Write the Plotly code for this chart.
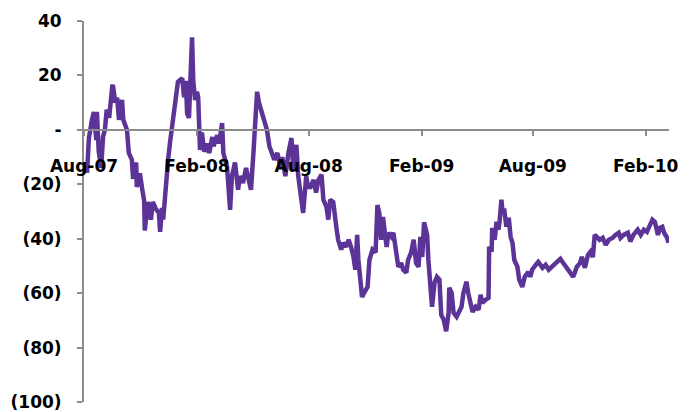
import plotly.graph_objects as go

dates = [
"2007-08-06","2007-08-09","2007-08-14","2007-08-17","2007-08-21","2007-08-22","2007-08-25","2007-08-29",
"2007-09-01","2007-09-04","2007-09-07","2007-09-11","2007-09-16","2007-09-17","2007-09-21","2007-09-24","2007-09-27",
"2007-10-02","2007-10-04","2007-10-10","2007-10-13","2007-10-18","2007-10-20","2007-10-25","2007-10-26","2007-10-31",
"2007-11-04","2007-11-07","2007-11-08","2007-11-13","2007-11-18","2007-11-21","2007-11-26",
"2007-12-01","2007-12-03","2007-12-06","2007-12-08","2007-12-13","2007-12-16","2007-12-19","2007-12-24","2007-12-27",
"2008-01-01","2008-01-08","2008-01-11","2008-01-14","2008-01-16","2008-01-19","2008-01-24","2008-01-26","2008-01-29",
"2008-02-01","2008-02-03","2008-02-06","2008-02-09","2008-02-13","2008-02-18","2008-02-21","2008-02-26","2008-02-28",
"2008-03-05","2008-03-08","2008-03-13","2008-03-15","2008-03-21","2008-03-26","2008-03-29",
"2008-04-03","2008-04-08","2008-04-11","2008-04-16","2008-04-21","2008-04-24","2008-04-29",
"2008-05-03","2008-05-09","2008-05-12","2008-05-17","2008-05-21","2008-05-25","2008-05-29",
"2008-06-03","2008-06-06","2008-06-11","2008-06-16","2008-06-19","2008-06-24","2008-06-29",
"2008-07-04","2008-07-07","2008-07-12","2008-07-15","2008-07-20","2008-07-23","2008-07-28","2008-07-31",
"2008-08-04","2008-08-09","2008-08-13","2008-08-17","2008-08-22","2008-08-25","2008-08-30",
"2008-09-02","2008-09-05","2008-09-10","2008-09-15","2008-09-18","2008-09-23","2008-09-26",
"2008-10-01","2008-10-05","2008-10-09","2008-10-13","2008-10-16","2008-10-19","2008-10-21","2008-10-24","2008-10-27","2008-10-30",
"2008-11-05","2008-11-08","2008-11-13","2008-11-18","2008-11-21","2008-11-24","2008-11-27","2008-11-30",
"2008-12-06","2008-12-09","2008-12-14","2008-12-17","2008-12-22","2008-12-25","2008-12-30",
"2009-01-02","2009-01-07","2009-01-10","2009-01-15","2009-01-19","2009-01-23","2009-01-27","2009-01-30",
"2009-02-02","2009-02-05","2009-02-10","2009-02-12","2009-02-15","2009-02-18","2009-02-22","2009-02-26",
"2009-03-02","2009-03-05","2009-03-09","2009-03-13","2009-03-17","2009-03-18","2009-03-22","2009-03-25","2009-03-30",
"2009-04-02","2009-04-07","2009-04-10","2009-04-15","2009-04-18","2009-04-22","2009-04-25","2009-04-30",
"2009-05-05","2009-05-08","2009-05-11","2009-05-16","2009-05-21","2009-05-22","2009-05-26","2009-05-27","2009-05-31",
"2009-06-03","2009-06-06","2009-06-08","2009-06-11","2009-06-13","2009-06-16","2009-06-19","2009-06-23","2009-06-26","2009-06-29",
"2009-07-02","2009-07-07","2009-07-10","2009-07-15","2009-07-19","2009-07-25","2009-07-28","2009-07-31",
"2009-08-06","2009-08-10","2009-08-17","2009-08-22","2009-08-27",
"2009-09-02","2009-09-09","2009-09-15","2009-09-20","2009-09-27",
"2009-10-01","2009-10-06","2009-10-12","2009-10-17","2009-10-20","2009-10-25","2009-10-30",
"2009-11-03","2009-11-07","2009-11-10","2009-11-15","2009-11-18","2009-11-23","2009-11-28",
"2009-12-03","2009-12-09","2009-12-14","2009-12-19","2009-12-22","2009-12-27",
"2010-01-03","2010-01-07","2010-01-12","2010-01-19","2010-01-24","2010-01-29",
"2010-02-03","2010-02-07","2010-02-12","2010-02-16","2010-02-21","2010-02-24","2010-02-28",
"2010-03-03","2010-03-08","2010-03-10",
]

values = [
-15.8,-3,3.7,6.6,-3.7,6.6,-8,-14,
-2.6,0,7.4,4.4,16,16.5,10,11.8,3.7,
11,3.7,0,-8.5,-11,-18,-12,-21,-16,
-22,-26,-37,-26.5,-33,-26.5,-29,
-30.5,-37.5,-28.7,-33,-17,-11,-4.8,3.7,8.5,
17.6,19,12,18,6,4.4,34,18,11,
14,12,-7.4,-1,-8,-5,-8.5,-2.6,-6,
-2,-5,2.5,-8.5,-13.5,-29.4,-17,
-12,-22,-17,-19.5,-14,-17,-22,
-8.5,14,10,6,3.7,0,-6,
-8.5,-11,-8.5,-13.5,-10,-17,-8.5,
-3,-14.7,-5.5,-17,-24.6,-30.5,-17,-21,
-21,-18.4,-23,-18.4,-16.5,-25.7,-28.3,
-33,-25.7,-26.5,-35.6,-40.4,-44,-41.5,
-43,-40.4,-43,-46.7,-51.4,-38.6,-47.8,-55.8,-61.4,-60,
-57.7,-47.8,-44,-45,-27.6,-30.5,-40.4,-32,
-43,-37.8,-39.3,-37.8,-45,-50.3,-49,
-51.4,-52.5,-47.8,-45,-40.4,-49,-50.3,-39.3,
-46.7,-34,-38.6,-47.8,-56.2,-65,-56.2,-54,
-55,-68,-69.8,-74,-67.2,-58,-60,-67.2,-68.7,
-66.9,-65,-60,-55.8,-60,-63.6,-66.9,-65,
-66,-60.6,-63.6,-62.5,-61.7,-43,-44.8,-36,-40.4,
-33.8,-36.7,-33.8,-25.7,-30.5,-30,-35.6,-32.3,-39.3,-41.5,
-47.8,-50.3,-55,-57.7,-54,-52.2,-54,-51.4,
-49.6,-48.5,-50.7,-49.6,-51.4,
-50.3,-49,-47.4,-49,-51.4,
-52.5,-54,-50.3,-49,-46.7,-50.7,-46,
-44.8,-46.7,-38.6,-39.7,-40.4,-39.7,-42.3,
-40.4,-39.7,-38.6,-37.8,-39.7,-38.6,
-37.8,-41,-38.6,-36.7,-38.6,-36.7,
-37.5,-35,-33,-33.8,-38.6,-36,-35.6,
-37.8,-39.7,-41.5,
]

x_tick_vals = ["2007-08-01","2008-02-01","2008-08-01","2009-02-01","2009-08-01","2010-02-01"]
x_tick_text = ["Aug-07","Feb-08","Aug-08","Feb-09","Aug-09","Feb-10"]
y_tick_vals = [40, 20, 0, -20, -40, -60, -80, -100]
y_tick_text = ["40", "20", "-", "(20)", "(40)", "(60)", "(80)", "(100)"]

font = dict(family="DejaVu Sans", size=17, color="#000000", weight="bold")

fig = go.Figure()
fig.add_trace(go.Scatter(
    x=dates, y=values, mode="lines",
    line=dict(color="#5C3396", width=4.5),
    showlegend=False, hoverinfo="skip",
))

fig.update_layout(
    width=696, height=412,
    margin=dict(l=84, r=27, t=21, b=10),
    paper_bgcolor="white", plot_bgcolor="white",
    xaxis=dict(
        type="date",
        range=["2007-08-01", "2010-03-11"],
        tickvals=x_tick_vals, ticktext=x_tick_text,
        showgrid=False, zeroline=False,
        showline=True, linecolor="#8c8c8c", linewidth=2,
        ticks="outside", ticklen=5, tickwidth=1.5, tickcolor="#8c8c8c",
        anchor="free", position=100/140,
        tickfont=font, ticklabelstandoff=16,
        automargin=False,
    ),
    yaxis=dict(
        range=[-100, 40],
        tickvals=y_tick_vals, ticktext=y_tick_text,
        showgrid=False, zeroline=False,
        showline=True, linecolor="#8c8c8c", linewidth=2,
        ticks="outside", ticklen=5, tickwidth=1.5, tickcolor="#8c8c8c",
        tickfont=font, ticklabelstandoff=12,
        automargin=False,
    ),
)

fig.write_html("out.html")
